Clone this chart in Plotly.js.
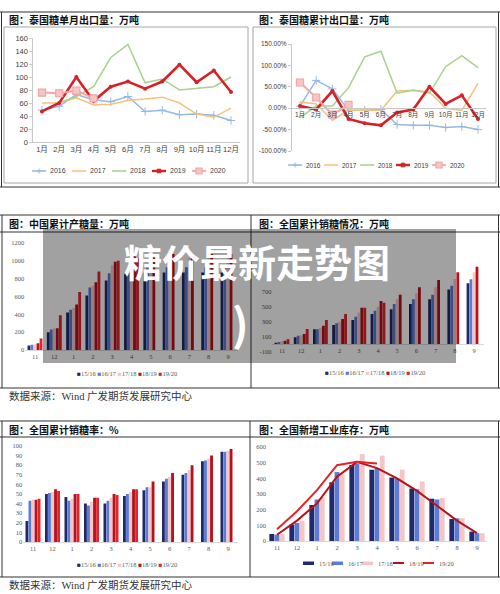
<!DOCTYPE html>
<html><head><meta charset="utf-8">
<script src="https://cdn.plot.ly/plotly-3.0.1.min.js"></script>
<style>html,body{margin:0;padding:0;background:#fff;}#chart{width:500px;height:594px;}</style>
</head><body><div id="chart"></div>
<script>
// ---------- data ----------
const months = ['1月','2月','3月','4月','5月','6月','7月','8月','9月','10月','11月','12月'];
const years = ['2016','2017','2018','2019','2020'];
// Thailand monthly sugar exports (万吨)
const m2016 = [49, 55, 73, 65, 62, 70, 47, 49, 42, 43, 41, 33];
const m2017 = [60, 60, 68, 57, 58, 64, 66, 69, 60, 43, 38, 52];
const m2018 = [48, 60, 70, 85, 130, 150, 91, 97, 80, 83, 85, 100];
const m2019 = [47, 60, 100, 63, 85, 93, 82, 93, 119, 92, 110, 77];
const m2020 = [76, 75, 79, 67];
// Thailand cumulative exports, y/y (%)
const c2016 = [5, 65, 45, -5, -5, -3, -38, -40, -40, -45, -43, -50];
const c2017 = [15, 10, -28, -5, -5, -5, 40, 42, 38, 0, -5, 58];
const c2018 = [-22, 5, 5, 48, 120, 133, 35, 42, 35, 97, 123, 95];
const c2019 = [5, -3, 40, -25, -35, -40, -10, -3, 50, 10, 30, -25];
const c2020 = [60, 25, -15, 8];
const pctTickVals = [-100, -50, 0, 50, 100, 150];
const pctTickText = ['-100.00%', '-50.00%', '0.00%', '50.00%', '100.00%', '150.00%'];

const cats = ['11','12','1','2','3','4','5','6','7','8','9'];
const seasons = ['15/16','16/17','17/18','18/19','19/20'];
// China cumulative sugar production (万吨)
const prod1516 = [50, 200, 420, 610, 780, 850, 865, 870, 870, 870, 870];
const prod1617 = [60, 230, 450, 700, 860, 915, 925, 929, 929, 929, 929];
const prod1718 = [65, 240, 470, 720, 950, 1020, 1031, 1031, 1031, 1031, 1031];
const prod1819 = [75, 245, 510, 760, 990, 1060, 1070, 1076, 1076, 1076, 1076];
const prod1920 = [130, 390, 650, 880, 1000, 1030];
// cumulative sales (万吨)
const sale1516 = [20, 92, 198, 256, 323, 403, 465, 536, 598, 730, 814];
const sale1617 = [30, 113, 200, 278, 367, 447, 536, 598, 660, 778, 866];
const sale1718 = [35, 120, 220, 300, 420, 500, 600, 680, 760, 870, 960];
const sale1819 = [45, 136, 247, 336, 487, 577, 660, 758, 856, 958, 1033];
const sale1920 = [65, 203, 323, 403, 485, 553];
// labels visible in the picture (the upper ones are hidden under the banner)
const saleTickVals = [-100, 100, 300, 500, 700];
const saleTickText = ['-100', '100', '300', '500', '700'];
// cumulative sales rate (%)
const rate1516 = [22, 50, 47, 40, 40, 48, 54, 63, 70, 84, 94];
const rate1617 = [43, 51, 43, 38, 43, 50, 57, 66, 72, 85, 94];
const rate1718 = [44, 52, 45, 42, 46, 52, 57, 68, 75, 87, 95];
const rate1819 = [44, 55, 50, 46, 50, 55, 63, 72, 80, 90, 97];
const rate1920 = [45, 53, 50, 46, 49, 55];
// new industrial inventory (万吨)
const inv1516 = [45, 105, 230, 375, 485, 455, 405, 335, 270, 140, 60];
const inv1617 = [40, 115, 265, 440, 495, 465, 400, 330, 265, 145, 50];
const inv1718 = [45, 130, 280, 430, 555, 545, 455, 380, 275, 145, 50];
const inv1819 = [40, 130, 240, 410, 505, 465, 400, 320, 225, 130, 50];
const inv1920 = [75, 190, 325, 484, 505, 495];

// ---------- styling ----------
const yearColors = ['#95b9e0', '#f5c27c', '#a9d18e', '#d42328', '#f4a6a6'];
const seasonColors = ['#1f2a6b', '#5b7bd5', '#f6c6c6', '#b5121b', '#e3232b'];
const px = x => x / 500;
const py = y => 1 - y / 594;
const tfTop = {family: 'Liberation Sans, Noto Sans CJK SC', size: 7.5, color: '#404040'};
const tfTop2 = {family: 'Liberation Sans, Noto Sans CJK SC', size: 6.5, color: '#404040'};
const tfSerif = {family: 'Liberation Serif, Noto Sans CJK SC', size: 6.5, color: '#595959'};

const traces = [];
const mSeries = [m2016, m2017, m2018, m2019, m2020];
const cSeries = [c2016, c2017, c2018, c2019, c2020];
function yearTrace(i, ys, xa, ya) {
  const t = {x: months.slice(0, ys.length), y: ys, type: 'scatter', name: years[i], xaxis: xa, yaxis: ya,
    mode: 'lines', line: {color: yearColors[i], width: 1.5}, showlegend: false, hoverinfo: 'skip'};
  if (i === 0) { t.mode = 'lines+markers'; t.marker = {symbol: 'cross-thin', size: 6, line: {color: yearColors[0], width: 1}}; }
  if (i === 3) { t.mode = 'lines+markers'; t.line.width = 2.6; t.marker = {symbol: 'circle', size: 4, color: yearColors[3]}; }
  if (i === 4) { t.mode = 'lines+markers'; t.line.width = 2; t.marker = {symbol: 'square', size: 7, color: '#f8c4c4', line: {color: yearColors[4], width: 1.2}}; }
  return t;
}
mSeries.forEach((s, i) => traces.push(yearTrace(i, s, 'x', 'y')));
cSeries.forEach((s, i) => traces.push(yearTrace(i, s, 'x2', 'y2')));

function barSet(list, xa, ya, n) {
  list.slice(0, n).forEach((s, i) => traces.push({x: cats.slice(0, s.length), y: s, type: 'bar', name: seasons[i],
    xaxis: xa, yaxis: ya, marker: {color: seasonColors[i]}, showlegend: false, hoverinfo: 'skip'}));
}
barSet([prod1516, prod1617, prod1718, prod1819, prod1920], 'x3', 'y3', 5);
barSet([sale1516, sale1617, sale1718, sale1819, sale1920], 'x4', 'y4', 5);
barSet([rate1516, rate1617, rate1718, rate1819, rate1920], 'x5', 'y5', 5);
barSet([inv1516, inv1617, inv1718], 'x6', 'y6', 3);
[inv1819, inv1920].forEach((s, k) => traces.push({x: cats.slice(0, s.length), y: s, type: 'scatter', mode: 'lines',
  name: seasons[3 + k], xaxis: 'x6', yaxis: 'y6', line: {color: seasonColors[3 + k], width: 2}, showlegend: false, hoverinfo: 'skip'}));

// ---------- axes ----------
function catX(dom, anchor, n, font, extra) {
  return Object.assign({domain: [px(dom[0]), px(dom[1])], anchor: anchor, type: 'category', range: [-0.5, n - 0.5],
    tickangle: 0, showgrid: false, zeroline: false, ticks: '', tickfont: font, fixedrange: true,
    showline: true, linecolor: '#c8c8c8', linewidth: 1}, extra || {});
}
function linY(dom, anchor, range, font, extra) {
  return Object.assign({domain: [py(dom[0]), py(dom[1])], anchor: anchor, range: range, showgrid: false,
    zeroline: false, tickfont: font, fixedrange: true, showline: false}, extra || {});
}

const shapes = [];
const annotations = [];
function L(x0, y0, x1, y1, color, w, dash) {
  shapes.push({type: 'line', xref: 'paper', yref: 'paper', x0: px(x0), y0: py(y0), x1: px(x1), y1: py(y1),
    line: {color: color, width: w, dash: dash || 'solid'}, layer: 'above'});
}
function R(x0, y0, x1, y1, line, fill, w) {
  shapes.push({type: 'rect', xref: 'paper', yref: 'paper', x0: px(x0), y0: py(y0), x1: px(x1), y1: py(y1),
    line: {color: line || 'rgba(0,0,0,0)', width: w === undefined ? 1 : w}, fillcolor: fill || 'rgba(0,0,0,0)', layer: 'above'});
}
function T(text, x, y, font, xanchor) {
  annotations.push({text: text, x: px(x), y: py(y), xref: 'paper', yref: 'paper', showarrow: false,
    xanchor: xanchor || 'left', yanchor: 'middle', font: font});
}

// frames
const dark = '#333333';
L(0, 12, 500, 12, dark, 1.2);
L(1.5, 12, 1.5, 187, dark, 1); L(498.5, 12, 498.5, 187, dark, 1); L(0, 187, 500, 187, dark, 1);
R(4, 27, 248, 183, '#a6a6a6', null, 1);
R(253, 27, 496, 183, '#a6a6a6', null, 1);

L(0, 215, 500, 215, dark, 1.2); L(0, 232, 500, 232, dark, 1); L(0, 388, 500, 388, dark, 1.2);
L(2, 215, 2, 388, dark, 1); L(251, 215, 251, 388, dark, 1); L(498.5, 215, 498.5, 388, dark, 1);

L(0, 421, 500, 421, dark, 1.2); L(0, 437, 500, 437, dark, 1); L(0, 577, 500, 577, dark, 1.2);
L(2, 421, 2, 577, dark, 1); L(250, 421, 250, 577, dark, 1); L(498.5, 421, 498.5, 577, dark, 1);

// titles
const tFont = {family: 'Noto Sans CJK SC', size: 10, color: '#111', weight: 'bold'};
T('图：泰国糖单月出口量：万吨', 7, 20, tFont);
T('图：泰国糖累计出口量：万吨', 257, 20, tFont);
T('图：中国累计产糖量：万吨', 7, 223, tFont);
T('图：全国累计销糖情况：万吨', 257, 223, tFont);
T('图：全国累计销糖率：%', 7, 429, tFont);
T('图：全国新增工业库存：万吨', 257, 429, tFont);
const srcFont = {family: 'Liberation Serif, Noto Sans CJK SC', size: 10.5, color: '#333'};
T('数据来源：Wind 广发期货发展研究中心', 7, 396, srcFont);
T('数据来源：Wind 广发期货发展研究中心', 7, 585, srcFont);

// line legends (charts 1 & 2)
function lineLegend(textXs, y, font) {
  textXs.forEach((tx, i) => {
    const x0 = tx - 16, x1 = tx - 2, cx = (x0 + x1) / 2;
    L(x0, y, x1, y, yearColors[i], i === 3 ? 2.4 : (i === 4 ? 1.8 : 1.5));
    if (i === 0) { L(cx - 2.5, y, cx + 2.5, y, yearColors[0], 1); L(cx, y - 2.5, cx, y + 2.5, yearColors[0], 1); }
    if (i === 3) { R(cx - 1.8, y - 1.8, cx + 1.8, y + 1.8, yearColors[3], yearColors[3], 1); }
    if (i === 4) { R(cx - 3, y - 3, cx + 3, y + 3, yearColors[4], '#f8c4c4', 1.2); }
    T(years[i], tx, y, font);
  });
}
lineLegend([48, 88, 128, 168, 208], 171, {family: 'Liberation Sans', size: 7, color: '#404040'});
lineLegend([304, 340, 376, 412, 448], 165, {family: 'Liberation Sans', size: 6.5, color: '#404040'});

// bar legends (charts 3-5)
function squareLegend(cx, y) {
  const txt = seasons.map((s, i) => '<span style="color:' + seasonColors[i] + '">■</span>' + s).join(' ');
  T(txt, cx, y, {family: 'Liberation Serif, DejaVu Sans', size: 6.5, color: '#595959'}, 'center');
}
squareLegend(126.5, 373);
squareLegend(375, 372);
squareLegend(126.5, 564);
// chart 6 legend
const c6tx = [317, 346, 376, 407, 437];
c6tx.forEach((tx, i) => {
  const x1 = tx - 3, x0 = x1 - 11;
  if (i < 3) R(x0, 561.5, x1, 565, seasonColors[i], seasonColors[i], 0);
  else L(x0, 563, x1, 563, seasonColors[i], 2);
  T(seasons[i], tx, 563, {family: 'Liberation Serif', size: 6.5, color: '#595959'});
});

// overlay banner
R(43, 229, 456, 363, 'rgba(0,0,0,0)', 'rgba(0,0,0,0.37)', 0);
const bFont = {family: 'Noto Sans CJK SC', size: 38, color: '#ffffff', weight: 'bold'};
T('糖价最新走势图', 392, 260, bFont, 'right');
T(')', 240, 322, {family: 'Noto Sans CJK SC', size: 44, color: '#ffffff', weight: 'bold'}, 'center');

const layout = {
  width: 500, height: 594, margin: {l: 0, r: 0, t: 0, b: 0},
  paper_bgcolor: '#ffffff', plot_bgcolor: 'rgba(0,0,0,0)', showlegend: false,
  barmode: 'group', bargap: 0.22, bargroupgap: 0.06,
  xaxis: catX([33.4, 239.6], 'y', 12, tfTop),
  yaxis: linY([142, 38], 'x', [0, 160], tfTop, {dtick: 20, showline: true, linecolor: '#c8c8c8', ticks: 'outside', ticklen: 3, tickcolor: '#c8c8c8'}),
  xaxis2: catX([291.9, 486.1], 'free', 12, tfTop2, {position: py(108.2)}),
  yaxis2: linY([151, 44], 'x2', [-100, 150], tfTop2, {tickmode: 'array', tickvals: pctTickVals, ticktext: pctTickText,
    showline: true, linecolor: '#c8c8c8', ticks: 'outside', ticklen: 3, tickcolor: '#c8c8c8'}),
  xaxis3: catX([25.35, 237.65], 'y3', 11, tfSerif, {linecolor: '#d9d9d9'}),
  yaxis3: linY([350, 243], 'x3', [0, 1200], tfSerif, {dtick: 200}),
  xaxis4: catX([272.4, 483.6], 'free', 11, tfSerif, {position: py(344.2), linecolor: '#d9d9d9'}),
  yaxis4: linY([351.7, 261.7], 'x4', [-100, 1100], tfSerif, {tickmode: 'array', tickvals: saleTickVals, ticktext: saleTickText}),
  xaxis5: catX([23.25, 237.75], 'y5', 11, tfSerif, {linecolor: '#d9d9d9'}),
  yaxis5: linY([542, 446], 'x5', [0, 100], tfSerif, {dtick: 10}),
  xaxis6: catX([267, 487], 'y6', 11, tfSerif, {linecolor: '#d9d9d9'}),
  yaxis6: linY([541, 447], 'x6', [0, 600], tfSerif, {dtick: 100}),
  shapes: shapes,
  annotations: annotations
};
Plotly.newPlot('chart', traces, layout, {staticPlot: true, displayModeBar: false});
</script>
</body></html>
